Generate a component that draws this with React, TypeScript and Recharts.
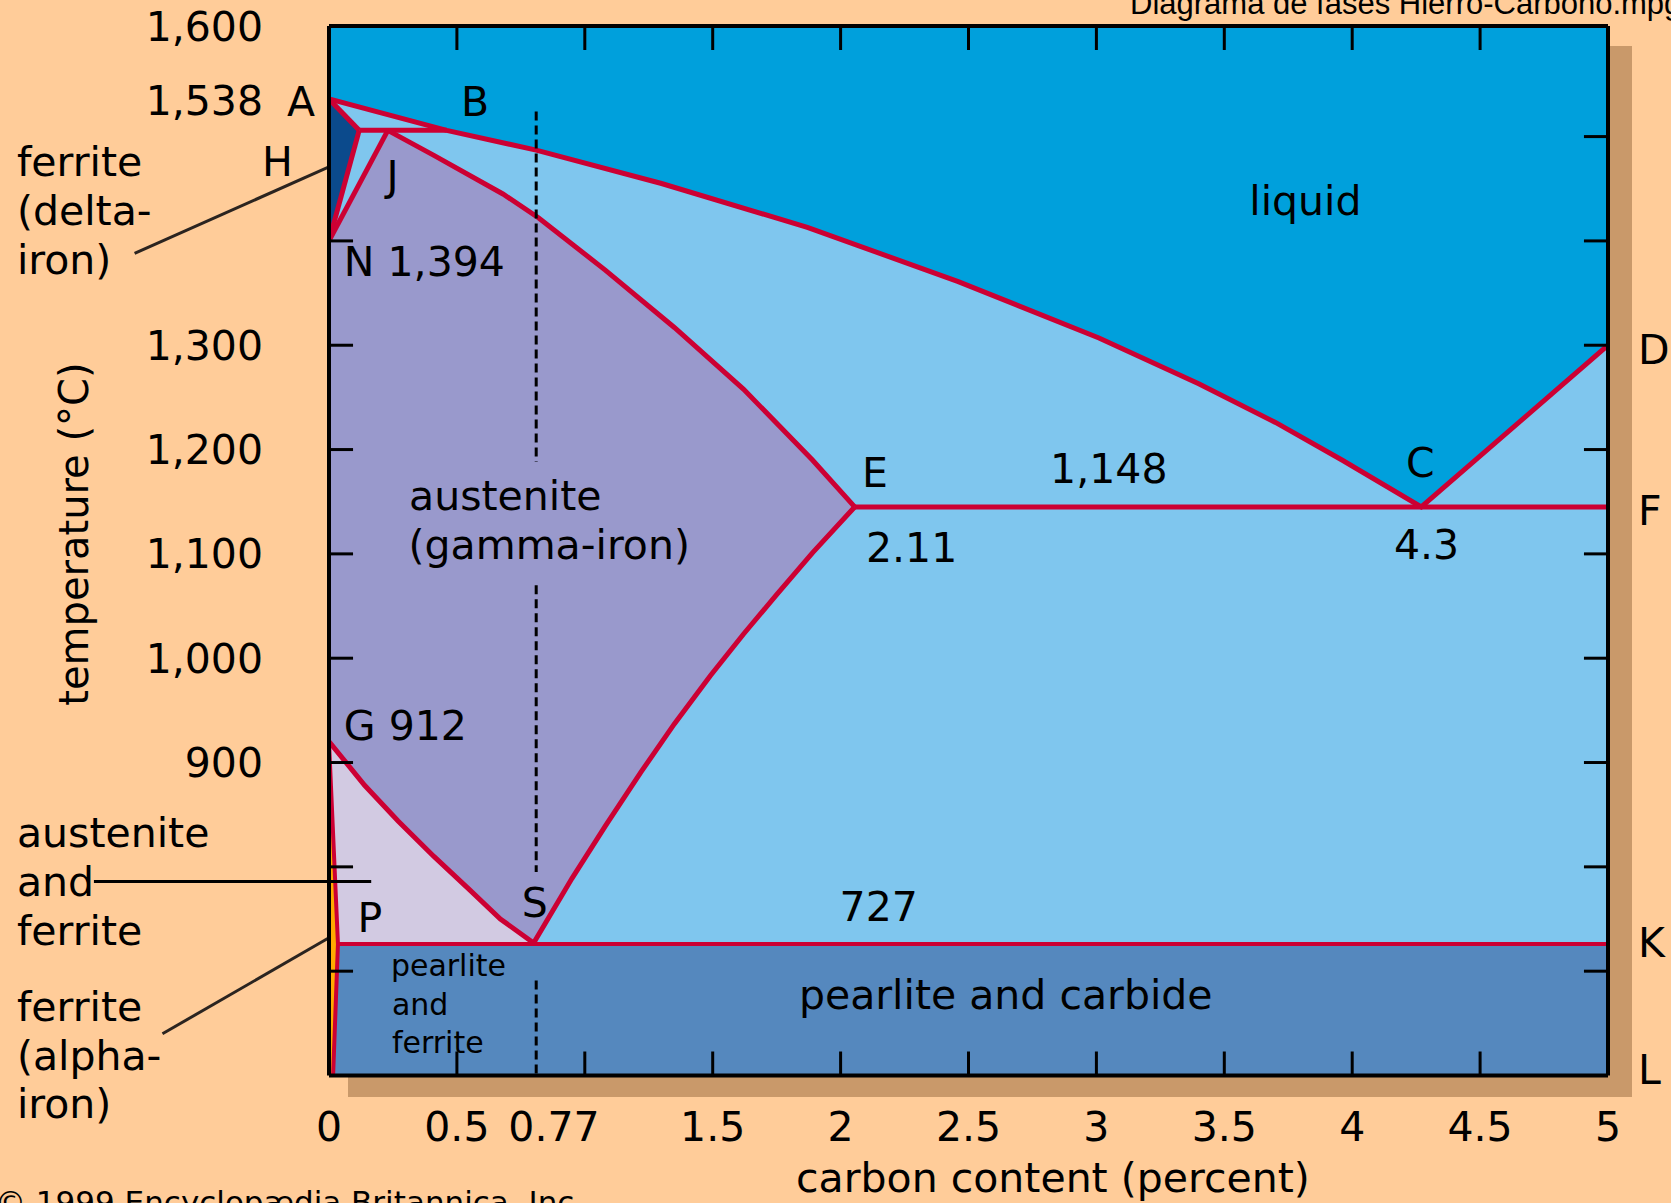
import React from 'react';
import {
  ComposedChart,
  Area,
  Line,
  XAxis,
  YAxis,
  CartesianGrid,
  ReferenceLine,
  ReferenceDot,
} from 'recharts';

// x = carbon content (%), t = temperature (°C)
const liquidus = [
  { x: 0, t: 1536 },
  { x: 0.46, t: 1506 },
  { x: 0.81, t: 1487 },
  { x: 1.3, t: 1455 },
  { x: 1.87, t: 1413 },
  { x: 2.46, t: 1361 },
  { x: 3.01, t: 1307 },
  { x: 3.4, t: 1263 },
  { x: 3.7, t: 1226 },
  { x: 3.96, t: 1190 },
  { x: 4.27, t: 1145 }, // C
  { x: 5, t: 1300 }, // D
];
const solidusAH = [
  { x: 0, t: 1536 },
  { x: 0.118, t: 1506 },
];
const peritecticHB = [
  { x: 0.118, t: 1506 },
  { x: 0.46, t: 1506 },
];
const lineNH = [
  { x: 0, t: 1400 },
  { x: 0.118, t: 1506 },
];
const lineNJ = [
  { x: 0, t: 1400 },
  { x: 0.23, t: 1506 },
];
const solidusJE = [
  { x: 0.23, t: 1506 },
  { x: 0.41, t: 1482 },
  { x: 0.68, t: 1445 },
  { x: 0.82, t: 1422 },
  { x: 1.08, t: 1372 },
  { x: 1.35, t: 1317 },
  { x: 1.62, t: 1258 },
  { x: 1.89, t: 1190 },
  { x: 2.055, t: 1145 },
];
const eutecticEF = [
  { x: 2.055, t: 1145 },
  { x: 5, t: 1145 },
];
const solvusGS = [
  { x: 0, t: 920 },
  { x: 0.14, t: 878 },
  { x: 0.27, t: 844 },
  { x: 0.41, t: 810 },
  { x: 0.55, t: 778 },
  { x: 0.67, t: 750 },
  { x: 0.8, t: 727 },
];
const solvusES = [
  { x: 0.8, t: 727 },
  { x: 0.95, t: 789 },
  { x: 1.08, t: 839 },
  { x: 1.22, t: 891 },
  { x: 1.35, t: 937 },
  { x: 1.49, t: 983 },
  { x: 1.62, t: 1023 },
  { x: 1.75, t: 1061 },
  { x: 1.89, t: 1101 },
  { x: 2.055, t: 1145 },
];
const eutectoidPK = [
  { x: 0.035, t: 726 },
  { x: 5, t: 726 },
];
const solvusGPQ = [
  { x: 0, t: 920 },
  { x: 0.035, t: 726 },
  { x: 0.016, t: 600 },
];
const austeniteTop = [lineNJ[0], ...solidusJE];
const gammaCementiteTop = [...solvusES, eutecticEF[1]];
const deltaRange = [
  { x: 0, t: [1400, 1536] },
  { x: 0.118, t: [1506, 1506] },
];
const alphaRange = [
  { x: 0, t: [600, 920] },
  { x: 0.016, t: [600, 831] },
  { x: 0.035, t: [726, 726] },
];
const pearliteTop = [
  { x: 0, t: 726 },
  { x: 5, t: 726 },
];
const dashTop = [
  { x: 0.81, t: 1524 },
  { x: 0.81, t: 1188 },
];
const dashMid = [
  { x: 0.81, t: 1070 },
  { x: 0.81, t: 795 },
];
const dashLow = [
  { x: 0.81, t: 691 },
  { x: 0.81, t: 600 },
];

const xTicks = [0, 0.5, 0.77, 1.5, 2, 2.5, 3, 3.5, 4, 4.5, 5];
const yTicks = [1600, 1538, 1300, 1200, 1100, 1000, 900];
const topBottomMarks = [0.5, 1, 1.5, 2, 2.5, 3, 3.5, 4, 4.5];
const leftMarks = [700, 800, 900, 1000, 1100, 1200, 1300, 1400];
const rightMarks = [700, 800, 900, 1000, 1100, 1200, 1300, 1400, 1500];

// text notes: x, t = where the text baseline starts (or its centre for 'middle')
const plotNotes = [
  { text: 'liquid', x: 3.817, t: 1425, anchor: 'middle' },
  { text: 'B', x: 0.516, t: 1520 },
  { text: 'J', x: 0.225, t: 1449 },
  { text: 'N 1,394', x: 0.058, t: 1366 },
  { text: 'austenite', x: 0.313, t: 1142 },
  { text: '(gamma-iron)', x: 0.311, t: 1095 },
  { text: 'E', x: 2.084, t: 1164 },
  { text: '2.11', x: 2.099, t: 1092 },
  { text: '1,148', x: 2.819, t: 1168 },
  { text: 'C', x: 4.21, t: 1174 },
  { text: '4.3', x: 4.163, t: 1095 },
  { text: 'G 912', x: 0.058, t: 922 },
  { text: 'S', x: 0.754, t: 752 },
  { text: 'P', x: 0.111, t: 738 },
  { text: '727', x: 1.996, t: 748 },
  { text: 'pearlite and carbide', x: 1.837, t: 664 },
];
const smallNotes = [
  { text: 'pearlite', x: 0.242, t: 695 },
  { text: 'and', x: 0.246, t: 658 },
  { text: 'ferrite', x: 0.246, t: 622 },
];
const sideNotes = [
  { text: 'A', x: -0.164, t: 1520 },
  { text: 'H', x: -0.262, t: 1462 },
  { text: 'ferrite', x: -1.22, t: 1462 },
  { text: '(delta-', x: -1.22, t: 1415 },
  { text: 'iron)', x: -1.22, t: 1368 },
  { text: 'austenite', x: -1.22, t: 819 },
  { text: 'and', x: -1.22, t: 772 },
  { text: 'ferrite', x: -1.22, t: 725 },
  { text: 'ferrite', x: -1.22, t: 652 },
  { text: '(alpha-', x: -1.22, t: 605 },
  { text: 'iron)', x: -1.22, t: 559 },
  { text: 'D', x: 5.117, t: 1282 },
  { text: 'F', x: 5.117, t: 1128 },
  { text: 'K', x: 5.117, t: 714 },
  { text: 'L', x: 5.117, t: 592 },
  { text: 'carbon content (percent)', x: 2.83, t: 488, anchor: 'middle' },
];
const leaders = [
  [{ x: -0.76, y: 1388 }, { x: 0, y: 1471 }],
  [{ x: -0.919, y: 786 }, { x: 0.165, y: 786 }],
  [{ x: -0.651, y: 640 }, { x: 0, y: 732 }],
];

const FONT = '"DejaVu Sans", Verdana, sans-serif';
const PEACH = '#FFCC99';
const SHADOW = '#C9996A';
const LIQUID = '#00A0DC';
const LIGHT = '#7FC6EE';
const AUSTENITE = '#9999CC';
const DELTA = '#0B4A8C';
const AUST_FERRITE = '#D2CAE2';
const PEARLITE = '#5588BE';
const ALPHA = '#FFAA00';
const RED = '#CC0033';

const Y_MAX = 1606;

type Note = { text: string; x: number; t: number; anchor?: string };

const note = (n: Note, i: number, key: string, size = 41) => (
  <ReferenceDot
    key={key + i}
    x={n.x}
    y={n.t}
    r={1}
    ifOverflow="visible"
    shape={(p: any) => (
      <text
        x={p.cx}
        y={p.cy}
        textAnchor={n.anchor ?? 'start'}
        fontSize={size}
        fontFamily={FONT}
        fill="#000"
      >
        {n.text}
      </text>
    )}
  />
);

const XTick = ({ x, y, payload }: any) => (
  <text
    x={x + (payload.value === 0.77 ? 28 : 0)}
    y={y}
    dy="0.71em"
    textAnchor="middle"
    fontSize={41}
    fontFamily={FONT}
    fill="#000"
  >
    {payload.value}
  </text>
);

// the top two labels sit slightly off their values in the original
const YTick = ({ x, y, payload }: any) => (
  <text
    x={x}
    y={y + (payload.value === 1600 ? -6 : payload.value === 1538 ? 4 : 0)}
    dy="0.355em"
    textAnchor="end"
    fontSize={41}
    fontFamily={FONT}
    fill="#000"
  >
    {payload.value.toLocaleString('en-US')}
  </text>
);

const redLine = (data: { x: number; t: number }[], key: string, width = 5) => (
  <Line
    key={key}
    data={data}
    dataKey="t"
    type="linear"
    stroke={RED}
    strokeWidth={width}
    dot={false}
    activeDot={false}
    isAnimationActive={false}
  />
);

const fillArea = (data: any[], key: string, color: string, base?: number) => (
  <Area
    key={key}
    data={data}
    dataKey="t"
    type="linear"
    baseValue={base}
    fill={color}
    fillOpacity={1}
    stroke="none"
    dot={false}
    activeDot={false}
    isAnimationActive={false}
  />
);

export default function App() {
  return (
    <div
      style={{
        position: 'absolute',
        left: 0,
        top: 0,
        width: 1671,
        height: 1203,
        background: PEACH,
        overflow: 'hidden',
      }}
    >
      <div
        style={{ position: 'absolute', left: 348, top: 46, width: 1284, height: 1051, background: SHADOW }}
      />
      <div
        style={{
          position: 'absolute',
          left: 1130,
          top: -12,
          fontFamily: '"Liberation Sans", Arial, sans-serif',
          fontSize: 31,
          lineHeight: '32px',
          whiteSpace: 'nowrap',
          color: '#000',
        }}
      >
        Diagrama de fases Hierro-Carbono.mpg
      </div>
      <div
        style={{
          position: 'absolute',
          left: -5,
          top: 1187,
          fontFamily: FONT,
          fontSize: 31,
          lineHeight: '31px',
          whiteSpace: 'nowrap',
          color: '#000',
        }}
      >
        © 1999 Encyclopædia Britannica, Inc.
      </div>
      <div style={{ position: 'absolute', left: 0, top: 0 }}>
        <ComposedChart width={1671} height={1203} margin={{ top: 26, right: 63, bottom: 0, left: 0 }}>
          <CartesianGrid fill={LIQUID} horizontal={false} vertical={false} />
          <XAxis
            dataKey="x"
            type="number"
            domain={[0, 5]}
            ticks={xTicks}
            interval={0}
            height={127.5}
            axisLine={false}
            tickLine={false}
            tickSize={0}
            tickMargin={36}
            tick={<XTick />}
            allowDataOverflow
          />
          <YAxis
            type="number"
            domain={[600, Y_MAX]}
            ticks={yTicks}
            interval={0}
            width={329}
            axisLine={false}
            tickLine={false}
            tickSize={0}
            tickMargin={66}
            tick={<YTick />}
            allowDataOverflow
          />

          {fillArea(liquidus, 'fLiq', LIGHT, 600)}
          {fillArea(austeniteTop, 'fAust', AUSTENITE, 600)}
          {fillArea(solvusGS, 'fAustFer', AUST_FERRITE, 726)}
          {fillArea(gammaCementiteTop, 'fAustCem', LIGHT, 726)}
          {fillArea(pearliteTop, 'fPearl', PEARLITE, 600)}
          {fillArea(alphaRange, 'fAlpha', ALPHA)}
          {fillArea(deltaRange, 'fDelta', DELTA)}

          {redLine(liquidus, 'lLiq')}
          {redLine(solidusAH, 'lAH')}
          {redLine(peritecticHB, 'lHB')}
          {redLine(lineNH, 'lNH')}
          {redLine(lineNJ, 'lNJ')}
          {redLine(solidusJE, 'lJE')}
          {redLine(eutecticEF, 'lEF')}
          {redLine(solvusGS, 'lGS')}
          {redLine(solvusES, 'lES')}
          {redLine(eutectoidPK, 'lPK', 4)}
          {redLine(solvusGPQ, 'lGPQ', 4)}

          {[dashTop, dashMid, dashLow].map((d, i) => (
            <Line
              key={'dash' + i}
              data={d}
              dataKey="t"
              type="linear"
              stroke="#000"
              strokeWidth={3}
              strokeDasharray="9 5"
              dot={false}
              activeDot={false}
              isAnimationActive={false}
            />
          ))}

          {topBottomMarks.map((v) => (
            <ReferenceLine
              key={'tm' + v}
              segment={[{ x: v, y: Y_MAX }, { x: v, y: Y_MAX - 23 }]}
              stroke="#000"
              strokeWidth={3}
            />
          ))}
          {topBottomMarks.map((v) => (
            <ReferenceLine
              key={'bm' + v}
              segment={[{ x: v, y: 600 }, { x: v, y: 623 }]}
              stroke="#000"
              strokeWidth={3}
            />
          ))}
          {leftMarks.map((v) => (
            <ReferenceLine
              key={'lm' + v}
              segment={[{ x: 0, y: v }, { x: 0.094, y: v }]}
              stroke="#000"
              strokeWidth={3}
            />
          ))}
          {rightMarks.map((v) => (
            <ReferenceLine
              key={'rm' + v}
              segment={[{ x: 4.906, y: v }, { x: 5, y: v }]}
              stroke="#000"
              strokeWidth={3}
            />
          ))}
          {leaders.map((seg, i) => (
            <ReferenceLine
              key={'ld' + i}
              segment={seg}
              ifOverflow="visible"
              stroke={i === 1 ? '#000' : '#2b2420'}
              strokeWidth={3}
            />
          ))}

          <ReferenceLine x={0} stroke="#000" strokeWidth={4} />
          <ReferenceLine x={5} stroke="#000" strokeWidth={4} />
          <ReferenceLine y={600} stroke="#000" strokeWidth={4} />
          <ReferenceLine y={Y_MAX} stroke="#000" strokeWidth={4} />

          {plotNotes.map((n, i) => note(n, i, 'pn'))}
          {smallNotes.map((n, i) => note(n, i, 'sn', 30))}
          {sideNotes.map((n, i) => note(n, i, 'sd'))}
          <ReferenceDot
            x={-0.941}
            y={1119}
            r={1}
            ifOverflow="visible"
            shape={(p: any) => (
              <text
                x={p.cx}
                y={p.cy}
                transform={`rotate(-90 ${p.cx} ${p.cy})`}
                textAnchor="middle"
                fontSize={40}
                fontFamily={FONT}
                fill="#000"
              >
                temperature (°C)
              </text>
            )}
          />
        </ComposedChart>
      </div>
    </div>
  );
}
